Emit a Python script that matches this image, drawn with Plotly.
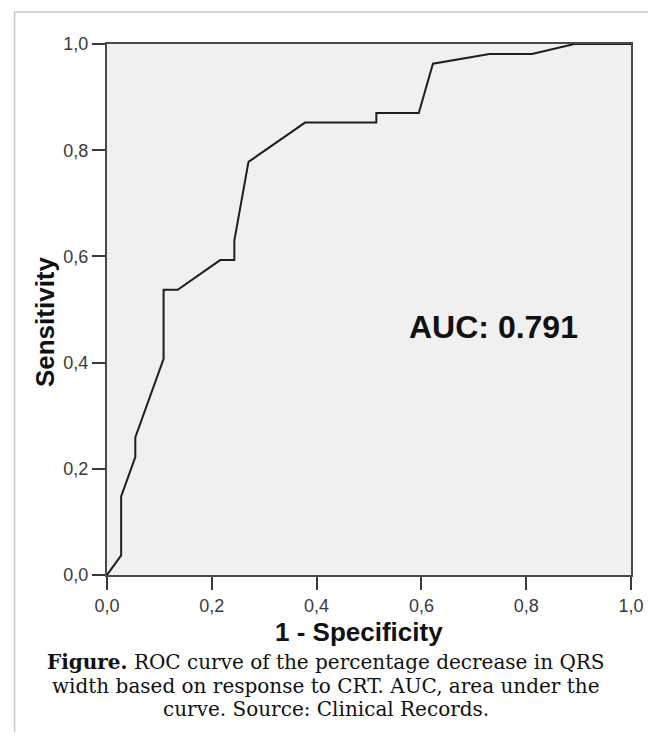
import plotly.graph_objects as go

# ROC curve points
fpr = [0.0, 0.027, 0.027, 0.054, 0.054, 0.108, 0.108, 0.135, 0.216, 0.243, 0.243,
       0.270, 0.378, 0.514, 0.514, 0.595, 0.622, 0.730, 0.811, 0.892, 1.0]
tpr = [0.0, 0.037, 0.148, 0.222, 0.259, 0.407, 0.537, 0.537, 0.593, 0.593, 0.630,
       0.778, 0.852, 0.852, 0.870, 0.870, 0.963, 0.981, 0.981, 1.0, 1.0]
tick_vals = [0.0, 0.2, 0.4, 0.6, 0.8, 1.0]
auc_text = "AUC: 0.791"
x_title = "1 - Specificity"
y_title = "Sensitivity"
caption_lines = [
    "<b>Figure.</b> ROC curve of the percentage decrease in QRS",
    "width based on response to CRT. AUC, area under the",
    "curve. Source: Clinical Records.",
]

OFF = 8  # page body margin
W, H = 656 - OFF, 740 - 2 * OFF
L, R, T, B = 107 - OFF, 640 - OFF, 44 - OFF, 575 - OFF  # plot area in figure px


def px(x):
    return (x - OFF - L) / (R - L)


def py(y):
    return (B - (y - OFF)) / (B - T)


fig = go.Figure()
fig.add_trace(go.Scatter(x=fpr, y=tpr, mode="lines",
                         line=dict(color="#1e1e1e", width=2),
                         hoverinfo="skip", showlegend=False))

axis_common = dict(
    range=[0, 1], tickvals=tick_vals, tickformat=".1f",
    showgrid=False, zeroline=False,
    showline=True, mirror=True, linecolor="#4a4a4a", linewidth=2,
    ticks="outside", ticklen=13, tickwidth=2, tickcolor="#3a3a3a",
    tickfont=dict(family="Liberation Sans, Arial", size=18, color="#3a3a3a"),
)
fig.update_xaxes(**axis_common)
fig.update_yaxes(**axis_common)

annotations = [
    dict(text=f"<b>{y_title}</b>", x=px(44), y=py(322), textangle=-90,
         font=dict(family="Liberation Sans, Arial", size=26, color="#111")),
    dict(text=f"<b>{x_title}</b>", x=px(363), y=py(632),
         font=dict(family="Liberation Sans, Arial", size=26, color="#111")),
    dict(text=f"<b>{auc_text}</b>", x=px(500), y=py(327),
         font=dict(family="Liberation Sans, Arial", size=32, color="#111")),
]
for i, line in enumerate(caption_lines):
    annotations.append(dict(text=line, x=px(330), y=py(662 + 23.5 * i),
                            font=dict(family="DejaVu Serif", size=20, color="#111")))
for a in annotations:
    a.update(xref="paper", yref="paper", showarrow=False,
             xanchor="center", yanchor="middle")

fig.update_layout(
    width=W, height=H,
    margin=dict(l=L, r=W - R, t=T, b=H - B),
    paper_bgcolor="white", plot_bgcolor="#f0f0f0",
    separators=",.",
    annotations=annotations,
    shapes=[dict(type="rect", xref="paper", yref="paper",
                 x0=px(13), x1=px(680), y0=py(780), y1=py(12),
                 line=dict(color="#c8c8c8", width=1.5), fillcolor="rgba(0,0,0,0)")],
)

fig.write_html("out.html")
